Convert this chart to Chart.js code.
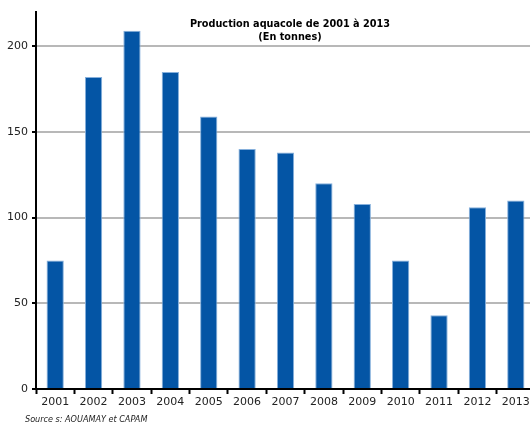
<!DOCTYPE html>
<html>
<head>
<meta charset="utf-8">
<script src="https://cdn.jsdelivr.net/npm/chart.js@4/dist/chart.umd.min.js"></script>
<style>
  html, body { margin: 0; padding: 0; background: #fff; overflow: hidden; }
  #wrap { width: 536px; height: 424px; }
</style>
</head>
<body>
<div id="wrap"><canvas id="c" width="536" height="424"></canvas></div>
<script>
// Production aquacole annuelle (tonnes)
const annees = ['2001','2002','2003','2004','2005','2006','2007','2008','2009','2010','2011','2012','2013'];
const production = [75, 182, 209, 185, 159, 140, 138, 120, 108, 75, 43, 106, 110];
const titreLignes = ['Production aquacole de 2001 à 2013', '(En tonnes)'];
const sourceTexte = 'Source s: AOUAMAY et CAPAM';

const FONT = 'Verdana, "DejaVu Sans", sans-serif';

const annotations = {
  id: 'annotations',
  afterDraw(chart) {
    const ctx = chart.ctx;
    ctx.save();
    ctx.fillStyle = '#000';
    ctx.textAlign = 'center';
    ctx.textBaseline = 'middle';
    ctx.font = 'bold 10.8px "DejaVu Sans Condensed", "DejaVu Sans", sans-serif';
    ctx.fillText(titreLignes[0], 290, 24);
    ctx.fillText(titreLignes[1], 290, 37);
    ctx.textAlign = 'left';
    ctx.font = 'italic 9px "DejaVu Sans Condensed", "DejaVu Sans", sans-serif';
    ctx.fillStyle = '#222';
    ctx.fillText(sourceTexte, 25, 420);
    ctx.restore();
  }
};

new Chart(document.getElementById('c'), {
  type: 'bar',
  data: {
    labels: annees,
    datasets: [{
      data: production,
      backgroundColor: '#0455a5',
      borderColor: '#86b0dc',
      borderWidth: 1,
      borderSkipped: 'bottom',
      barPercentage: 0.5,
      categoryPercentage: 0.9
    }]
  },
  options: {
    responsive: false,
    animation: false,
    layout: { padding: { top: 12, right: 1, left: 0, bottom: 0 } },
    plugins: {
      legend: { display: false },
      title: { display: false },
      tooltip: { enabled: false }
    },
    scales: {
      x: {
        afterFit(scale) { scale.height = 35; },
        border: { display: true, color: '#000', width: 2 },
        grid: { drawOnChartArea: false, drawTicks: true, tickLength: 5, tickColor: '#000', tickWidth: 2, offset: true },
        ticks: { color: '#222', font: { family: FONT, size: 11 }, padding: 2, maxRotation: 0, autoSkip: false }
      },
      y: {
        min: 0,
        max: 220,
        afterFit(scale) { scale.width = 36; },
        border: { display: true, color: '#000', width: 2 },
        grid: { color: '#b8b8b8', lineWidth: 2, tickColor: '#000', tickLength: 4, tickWidth: 2 },
        ticks: { stepSize: 50, includeBounds: false, color: '#222', font: { family: FONT, size: 11 }, padding: 4 }
      }
    }
  },
  plugins: [annotations]
});
</script>
</body>
</html>
